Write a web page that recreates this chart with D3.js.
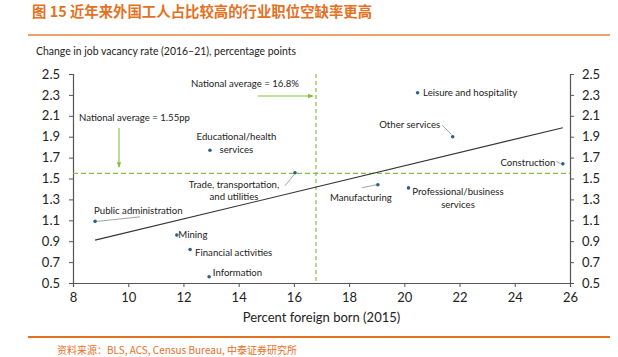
<!DOCTYPE html>
<html><head><meta charset="utf-8">
<script src="https://cdn.jsdelivr.net/npm/d3@7"></script>
<style>
html,body{margin:0;padding:0;background:#fff;}
svg{display:block;}
</style></head>
<body>
<svg id="chart" width="618" height="357"></svg>
<script>
// ---------- DATA ----------
const industries = ["Educational/health services","Trade, transportation, and utilities","Public administration","Mining","Financial activities","Information","Leisure and hospitality","Other services","Construction","Manufacturing","Professional/business services"];
const foreignBorn = [12.96, 16.04, 8.80, 11.76, 12.24, 12.93, 20.48, 21.75, 25.74, 19.04, 20.15];
const vacancyChange = [1.77, 1.555, 1.09, 0.96, 0.82, 0.56, 2.32, 1.90, 1.64, 1.44, 1.41];
const trendX = [8.8, 25.74];
const trendY = [0.91, 1.986];
const avgForeign = 16.8;
const avgVacancy = 1.55;
const xTicks = [8,10,12,14,16,18,20,22,24,26];
const yTicks = [0.5,0.7,0.9,1.1,1.3,1.5,1.7,1.9,2.1,2.3,2.5];
const titleText = "图 15 近年来外国工人占比较高的行业职位空缺率更高";
const subtitleText = "Change in job vacancy rate (2016–21), percentage points";
const xTitle = "Percent foreign born (2015)";
const sourceText = "资料来源：BLS, ACS, Census Bureau, 中泰证券研究所";

// label layout (lines, anchor, offsets in px from the point, optional leader end offsets)
const labelLayout = [
  {lines:["Educational/health","services"], anchor:"middle", dx:26.5, dy:[-13.7,-0.7]},
  {lines:["Trade, transportation,","and utilities"], anchor:"middle", dx:-61, dy:[12,23.5], leader:[-10,13,-1,2]},
  {lines:["Public administration"], anchor:"start", dx:-1, dy:[-11], leader:[2,0,45,-4.5]},
  {lines:["Mining"], anchor:"start", dx:1.5, dy:[0]},
  {lines:["Financial activities"], anchor:"start", dx:5, dy:[2.7]},
  {lines:["Information"], anchor:"start", dx:3.7, dy:[-4]},
  {lines:["Leisure and hospitality"], anchor:"start", dx:5.5, dy:[0]},
  {lines:["Other services"], anchor:"end", dx:-12.5, dy:[-12.4], leader:[-10.5,-11.5,-1.5,-2.5]},
  {lines:["Construction"], anchor:"end", dx:-7.5, dy:[-1.6], leader:[-6.5,-2.5,-2,0]},
  {lines:["Manufacturing"], anchor:"middle", dx:-17, dy:[12.4], leader:[-16,3,-1.5,0]},
  {lines:["Professional/business","services"], anchor:"middle", dx:49.5, dy:[3.3,16.3]}
];

// ---------- LAYOUT ----------
const svg = d3.select("#chart");
const orange = "#E4711F";
const green = "#86BE45";
const dotColor = "#2A6289";
const font = "Lato, 'Open Sans', sans-serif";
const plot = {left:73, right:570, top:74, bottom:283};

const x = d3.scaleLinear().domain([8,26]).range([plot.left, plot.right]);
const y = d3.scaleLinear().domain([0.5,2.5]).range([plot.bottom, plot.top]);

// title
svg.append("text").attr("x",32).attr("y",17)
  .attr("font-family","'Noto Sans CJK SC', sans-serif").attr("font-weight","bold")
  .attr("font-size",14.4).attr("fill",orange).text(titleText);
svg.append("line").attr("x1",28).attr("x2",610).attr("y1",35).attr("y2",35)
  .attr("stroke","#E8823A").attr("stroke-width",1.3);
svg.append("text").attr("x",36).attr("y",55).attr("font-family",font)
  .attr("font-size",11.6).attr("fill","#222")
  .attr("textLength",260).attr("lengthAdjust","spacingAndGlyphs").text(subtitleText);

// axes
const axisColor = "#555";
function styleAxis(g){
  g.select(".domain").attr("stroke",axisColor).attr("stroke-width",1.2);
  g.selectAll(".tick line").attr("stroke",axisColor).attr("stroke-width",1);
  g.selectAll(".tick text").attr("font-family",font).attr("font-size",13).attr("fill","#222");
}
const gx = svg.append("g").attr("transform",`translate(0,${plot.bottom})`)
  .call(d3.axisBottom(x).tickValues(xTicks).tickFormat(d3.format("d")).tickSizeOuter(0).tickSize(4).tickPadding(6));
styleAxis(gx);
const gyl = svg.append("g").attr("transform",`translate(${plot.left},0)`)
  .call(d3.axisLeft(y).tickValues(yTicks).tickFormat(d3.format(".1f")).tickSizeOuter(4).tickSize(4).tickPadding(9));
styleAxis(gyl);
const gyr = svg.append("g").attr("transform",`translate(${plot.right},0)`)
  .call(d3.axisRight(y).tickValues(yTicks).tickFormat(d3.format(".1f")).tickSizeOuter(4).tickSize(4).tickPadding(8));
styleAxis(gyr);

svg.append("text").attr("x",(plot.left+plot.right)/2).attr("y",322)
  .attr("text-anchor","middle").attr("font-family",font).attr("font-size",13)
  .attr("fill","#222").text(xTitle);

// reference lines
svg.append("line").attr("x1",plot.left).attr("x2",plot.right)
  .attr("y1",y(avgVacancy)).attr("y2",y(avgVacancy))
  .attr("stroke",green).attr("stroke-width",1.2).attr("stroke-dasharray","5,3");
svg.append("line").attr("x1",x(avgForeign)).attr("x2",x(avgForeign))
  .attr("y1",plot.top).attr("y2",plot.bottom)
  .attr("stroke",green).attr("stroke-width",1.2).attr("stroke-dasharray","4,3");

// annotations with arrows
const defs = svg.append("defs");
defs.append("marker").attr("id","arr").attr("viewBox","0 0 10 10").attr("refX",9).attr("refY",5)
  .attr("markerWidth",5).attr("markerHeight",5).attr("orient","auto")
  .append("path").attr("d","M0,1 L10,5 L0,9 Z").attr("fill",green);
const annSize = 9.6;
svg.append("text").attr("x",191).attr("y",87).attr("font-family",font).attr("font-size",annSize)
  .attr("fill","#222").text("National average = " + avgForeign + "%");
svg.append("line").attr("x1",258).attr("x2",x(avgForeign)-3).attr("y1",96).attr("y2",96)
  .attr("stroke",green).attr("stroke-width",1.1).attr("marker-end","url(#arr)");
svg.append("text").attr("x",79).attr("y",121).attr("font-family",font).attr("font-size",annSize)
  .attr("fill","#222").text("National average = " + avgVacancy + "pp");
svg.append("line").attr("x1",119).attr("x2",119).attr("y1",128).attr("y2",y(avgVacancy)-6)
  .attr("stroke",green).attr("stroke-width",1.1).attr("marker-end","url(#arr)");

// trend line
svg.append("path").datum(d3.zip(trendX,trendY))
  .attr("d",d3.line().x(d=>x(d[0])).y(d=>y(d[1])))
  .attr("stroke","#333").attr("stroke-width",1.1).attr("fill","none");

// points & labels
const pts = industries.map((n,i)=>({name:n, fx:foreignBorn[i], vy:vacancyChange[i], lay:labelLayout[i]}));
const g = svg.append("g");
pts.forEach(p=>{
  const px = x(p.fx), py = y(p.vy), L = p.lay;
  if (L.leader){
    g.append("line").attr("x1",px+L.leader[0]).attr("y1",py+L.leader[1])
      .attr("x2",px+L.leader[2]).attr("y2",py+L.leader[3])
      .attr("stroke","#8a8a8a").attr("stroke-width",0.8);
  }
  L.lines.forEach((ln,k)=>{
    g.append("text").attr("x",px+L.dx).attr("y",py+L.dy[k]+3.4)
      .attr("text-anchor",L.anchor).attr("font-family",font).attr("font-size",annSize)
      .attr("fill","#222").text(ln);
  });
  g.append("circle").attr("cx",px).attr("cy",py).attr("r",1.8).attr("fill",dotColor);
});

// footer
svg.append("line").attr("x1",28).attr("x2",610).attr("y1",337).attr("y2",337)
  .attr("stroke",orange).attr("stroke-width",2);
svg.append("text").attr("x",57).attr("y",354).attr("font-family","'Noto Sans CJK SC', sans-serif")
  .attr("font-size",10).attr("fill",orange).text(sourceText);
</script>
</body></html>
